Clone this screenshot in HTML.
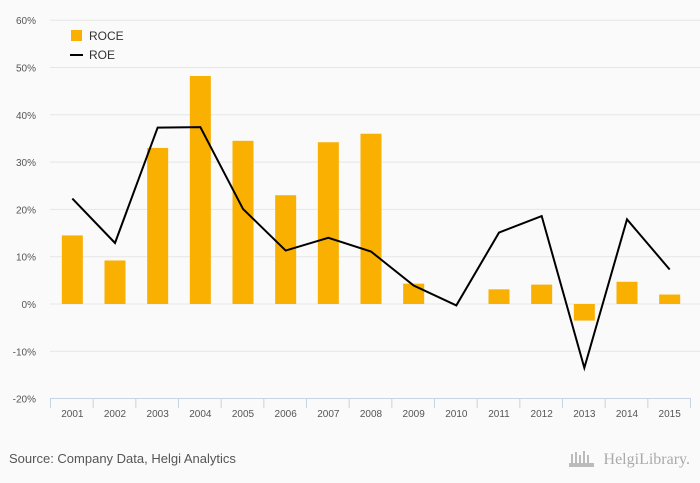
<!DOCTYPE html>
<html><head><meta charset="utf-8"><style>
body{margin:0;background:#fafafa;font-family:"Liberation Sans",sans-serif;}
svg{display:block}
</style></head><body>
<svg width="700" height="483" id="c" xmlns="http://www.w3.org/2000/svg">
<rect width="700" height="483" fill="#fafafa"/>
<g id="grid"></g><g id="bars"></g><g id="line"></g><g id="axis"></g>
<g>
<rect x="71" y="30" width="11" height="11" fill="#f9b000"/>
<text x="89" y="40" font-size="12" fill="#333">ROCE</text>
<line x1="70" y1="55" x2="83" y2="55" stroke="#000" stroke-width="2"/>
<text x="89" y="59" font-size="12" fill="#333">ROE</text>
</g>
<text x="9" y="463" font-size="13" fill="#555">Source: Company Data, Helgi Analytics</text>
<text x="690" y="464" font-size="16" fill="#aaa" text-anchor="end" font-family="Liberation Serif,serif">HelgiLibrary.</text>
<g fill="#bbb">
<rect x="571" y="454" width="2" height="10"/><rect x="575" y="452" width="2" height="12"/><rect x="579" y="455" width="2" height="9"/><rect x="583" y="451" width="2" height="13"/><rect x="587" y="455" width="2" height="9"/>
<rect x="569" y="463" width="25" height="4"/>
</g>
</svg>
<script>
const years=["2001","2002","2003","2004","2005","2006","2007","2008","2009","2010","2011","2012","2013","2014","2015"];
const roce=[14.5,9.2,33,48.2,34.5,23,34.2,36,4.3,0,3.1,4.1,-3.5,4.7,2.0];
const roe=[22.3,12.9,37.3,37.4,20.1,11.3,14.0,11.1,3.9,-0.3,15.1,18.6,-13.5,17.9,7.3];
const ticks=[-20,-10,0,10,20,30,40,50,60];
const NS="http://www.w3.org/2000/svg";
const x0=50.5,x1=690.5,band=(x1-x0)/years.length;
const y=v=>304-v*4.73;
const xc=i=>x0+band*(i+0.5)+0.5;
function mk(t,a,p){const e=document.createElementNS(NS,t);for(const k in a)e.setAttribute(k,a[k]);document.getElementById(p).appendChild(e);return e;}
ticks.forEach(t=>{
  if(t>-20){const l=mk('line',{x1:50,x2:700,y1:y(t),y2:y(t),stroke:'#e6e6e6'},'grid');
  
  }
  const tx=mk('text',{x:36,y:y(t)+4,'font-size':10,fill:'#555','text-anchor':'end'},'grid');
  tx.textContent=t+'%';
  
  
});
roce.forEach((v,i)=>{
  const b=mk('rect',{x:xc(i)-10.5,y:Math.min(y(v),y(0)),width:21,height:Math.abs(y(v)-y(0)),fill:'#f9b000'},'bars');
  
  
});
const pl=mk('polyline',{points:roe.map((v,i)=>xc(i)+','+y(v)).join(' '),fill:'none',stroke:'#000','stroke-width':2},'line');


const ax=mk('line',{x1:x0,x2:x1,y1:398.5,y2:398.5,stroke:'#c8d4e6'},'axis');


for(let i=0;i<=years.length;i++){
  const t=mk('line',{x1:x0+band*i,x2:x0+band*i,y1:398,y2:408,stroke:'#c8d4e6'},'axis');
  
  
}
years.forEach((yr,i)=>{
  const t=mk('text',{x:xc(i),y:417,'font-size':10,fill:'#555','text-anchor':'middle'},'axis');
  t.textContent=yr;
  
  
});
</script>
</body></html>
